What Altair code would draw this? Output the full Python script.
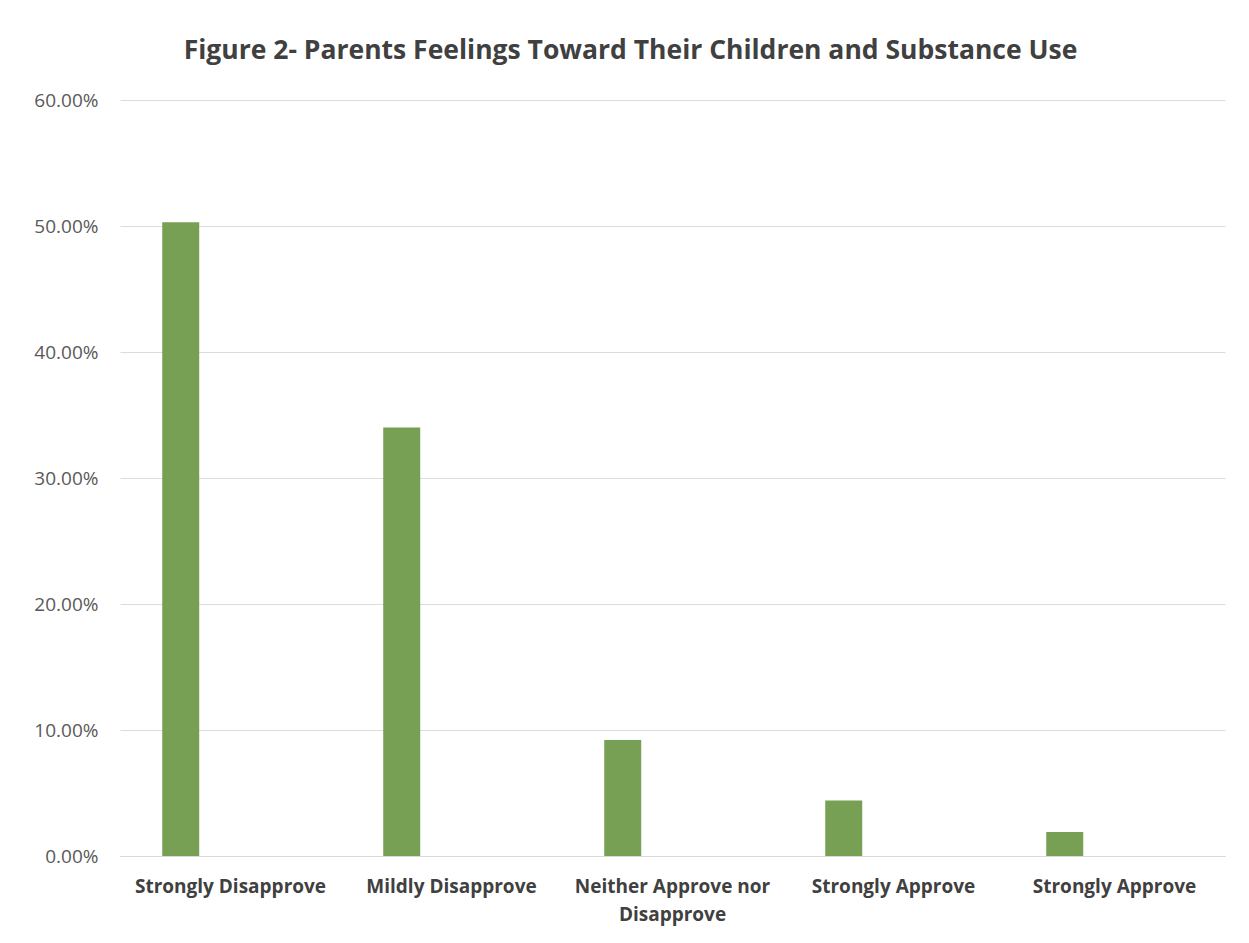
import json
import altair as alt
import pandas as pd

categories = ["c0", "c1", "c2", "c3", "c4"]
labels = ["Strongly Disapprove", "Mildly Disapprove", ["Neither Approve nor", "Disapprove"],
          "Strongly Approve", "Strongly Approve"]
values = [0.503, 0.340, 0.092, 0.044, 0.019]
series = ["s1", "s1", "s1", "s1", "s1"]

df = pd.DataFrame({"idx": list(range(len(categories))), "cat": categories,
                   "value": values, "series": series})

label_expr = json.dumps(labels) + "[datum.value]"

chart = alt.Chart(df).mark_bar(width=37, color="#77a055").encode(
    x=alt.X("idx:O", scale=alt.Scale(paddingInner=0, paddingOuter=0),
            axis=alt.Axis(title=None, labelAngle=0, labelExpr=label_expr,
                          labelFont="Open Sans", labelFontSize=19, labelFontWeight="bold",
                          labelColor="#404040", labelPadding=21, ticks=False,
                          labelLimit=400, labelOverlap=False,
                          domainColor="#d9d9d9", labelLineHeight=28)),
    xOffset=alt.XOffset("series:N", scale=alt.Scale(domain=["s1", "s2"], paddingInner=0,
                                                    paddingOuter=0.11)),
    y=alt.Y("value:Q", scale=alt.Scale(domain=[0, 0.6]),
            axis=alt.Axis(title=None, format=".2%", values=[0, 0.1, 0.2, 0.3, 0.4, 0.5, 0.6],
                          labelFont="Open Sans", labelFontSize=19, labelColor="#595959",
                          labelPadding=22, ticks=False, domain=False,
                          gridColor="#dcdcdc")),
).properties(
    width=1105, height=756,
    title=alt.TitleParams("Figure 2- Parents Feelings Toward Their Children and Substance Use",
                          font="Open Sans", fontSize=26.5, fontWeight="bold", color="#404040",
                          offset=27, dx=-42, anchor="middle"),
    autosize=alt.AutoSizeParams(type="none"),
    padding={"left": 112, "top": 92, "right": 16, "bottom": 80},
).configure_view(stroke=None)

chart.save("out.html", embed_options={"renderer": "svg", "actions": False})
